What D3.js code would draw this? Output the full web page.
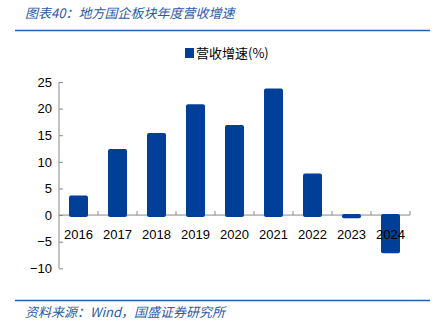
<!DOCTYPE html>
<html><head><meta charset="utf-8">
<script src="https://cdn.jsdelivr.net/npm/d3@7"></script>
<style>html,body{margin:0;padding:0;background:#fff;}svg{display:block;}</style>
</head><body>
<script>
const categories = ["2016","2017","2018","2019","2020","2021","2022","2023","2024"];
const revenueGrowth = [3.7, 12.4, 15.4, 20.8, 16.9, 23.8, 7.8, -0.4, -7.0];
const yTicks = [-10, -5, 0, 5, 10, 15, 20, 25];
const titleText = "图表40：地方国企板块年度营收增速";
const legendLabel = "营收增速(%)";
const sourceText = "资料来源：Wind，国盛证券研究所";

const W = 436, H = 328;
const svg = d3.select("body").append("svg").attr("width", W).attr("height", H);
const blue = "#003F98";
const textBlue = "#2A5BAA";

// Title
svg.append("text").attr("x", 25).attr("y", 18)
  .attr("font-family", "'Noto Sans CJK SC', sans-serif").attr("font-size", 13)
  .attr("font-style", "italic").attr("fill", textBlue).text(titleText);
svg.append("line").attr("x1", 15).attr("x2", 430).attr("y1", 30.5).attr("y2", 30.5)
  .attr("stroke", "#2A5DB8").attr("stroke-width", 1.5);

// Source
svg.append("line").attr("x1", 15).attr("x2", 430).attr("y1", 300.5).attr("y2", 300.5)
  .attr("stroke", "#2A5DB8").attr("stroke-width", 1.5);
svg.append("text").attr("x", 25).attr("y", 317)
  .attr("font-family", "'Noto Sans CJK SC', sans-serif").attr("font-size", 13)
  .attr("font-style", "italic").attr("fill", textBlue).text(sourceText);

// Scales
const xTickScale = d3.scaleBand().domain(categories).range([59, 410]);
const y = d3.scaleLinear().domain([-10, 25]).range([268.3, 82]);

// Y axis
const yAxis = d3.axisLeft(y).tickValues(yTicks).tickSize(-4).tickPadding(7);
const gy = svg.append("g").attr("transform", "translate(59,0)").call(yAxis);
gy.select(".domain").attr("stroke", "#888").attr("d", `M0,${y(25)}V${y(-10)}`);
gy.selectAll(".tick line").attr("stroke", "#888");
gy.selectAll("text").attr("font-family", "'Liberation Sans', Arial, sans-serif").attr("font-size", 13).attr("fill", "#000");

// X axis line + ticks at zero (below bars)
const gx = svg.append("g").attr("transform", `translate(0,${y(0)})`);
gx.append("line").attr("x1", 59).attr("x2", 410).attr("stroke", "#888");
gx.selectAll("line.t").data(categories).join("line").attr("class", "t")
  .attr("x1", d => xTickScale(d) + xTickScale.bandwidth()).attr("x2", d => xTickScale(d) + xTickScale.bandwidth())
  .attr("y1", 0).attr("y2", -4).attr("stroke", "#888");

// Bars
svg.append("g").selectAll("rect").data(revenueGrowth).join("rect")
  .attr("x", (d, i) => xTickScale(categories[i]) + (xTickScale.bandwidth() - 19) / 2)
  .attr("width", 19)
  .attr("y", d => Math.min(y(d), y(0)) - (d < 0 ? 1 : 0))
  .attr("height", d => Math.max(Math.abs(y(d) - y(0)), 2) + 2)
  .attr("rx", 2).attr("ry", 2)
  .attr("fill", blue);

// X labels (above bars)
const gl = svg.append("g").attr("transform", `translate(0,${y(0)})`);
gl.selectAll("text").data(categories).join("text")
  .attr("x", d => xTickScale(d) + xTickScale.bandwidth() / 2)
  .attr("y", 24).attr("text-anchor", "middle")
  .attr("font-family", "'Liberation Sans', Arial, sans-serif").attr("font-size", 13).attr("fill", "#000")
  .text(d => d);

// Legend
const lg = svg.append("g").attr("transform", "translate(185,48)");
lg.append("rect").attr("width", 9).attr("height", 10).attr("fill", blue);
lg.append("text").attr("x", 11).attr("y", 9.5)
  .attr("font-family", "'Noto Sans CJK SC', sans-serif").attr("font-size", 13).attr("fill", "#000")
  .text(legendLabel);
</script>
</body></html>
